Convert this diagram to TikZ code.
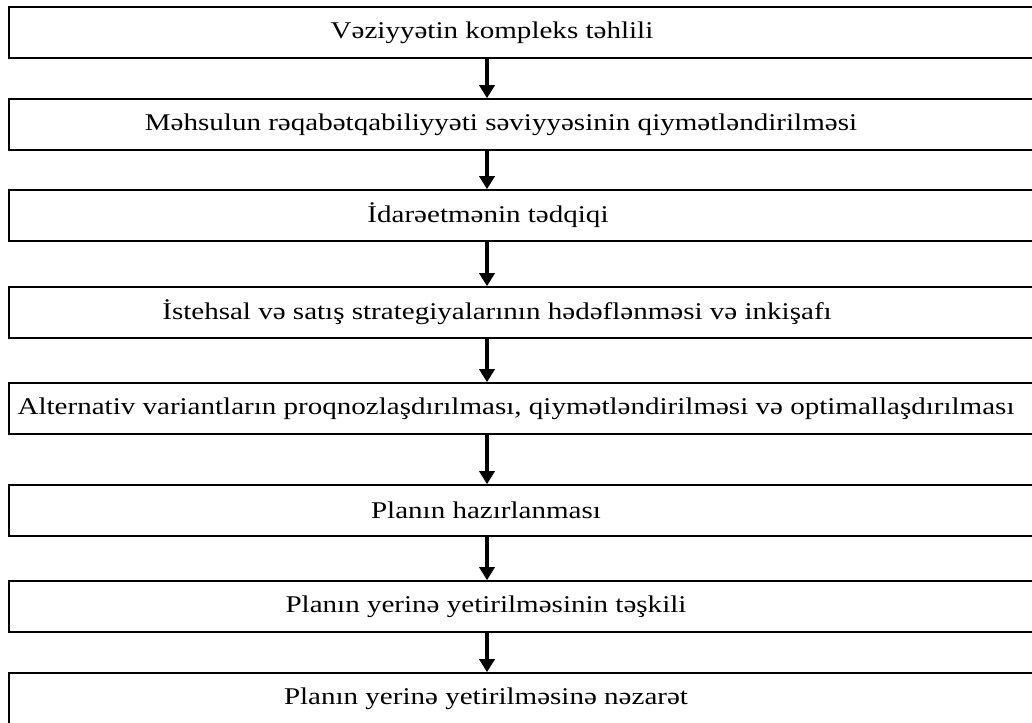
\documentclass[tikz,border=0pt]{standalone}
\usepackage{fontspec}
\setmainfont[FakeStretch=1.21]{Liberation Serif}
\usetikzlibrary{arrows.meta}
\begin{document}
\begin{tikzpicture}[x=1pt,y=-1pt,
  box/.style={draw=black,line width=1.6pt,minimum width=1036pt,minimum height=51pt,inner sep=0pt},
  lbl/.style={font=\fontsize{24}{28}\selectfont,inner sep=0pt},
  flow/.style={line width=3.6pt,-{Triangle[width=15pt,length=13pt]}}]
\useasboundingbox (0,0) rectangle (1032,722);
\clip (0,0) rectangle (1032,722);
\foreach \n/\y in {1/32.5,2/124.5,3/215.5,4/312.5,5/408.5,6/510.5,7/606.5,8/698.5}{
  \node[box] (b\n) at (527,\y) {};
}
\node[lbl] (t1) at (492,32.5) {Vəziyyətin kompleks təhlili};
\node[lbl] (t2) at (501,124.5) {Məhsulun rəqabətqabiliyyəti səviyyəsinin qiymətləndirilməsi};
\node[lbl] (t3) at (488,215.5) {İdarəetmənin tədqiqi};
\node[lbl] (t4) at (497,312.5) {İstehsal və satış strategiyalarının hədəflənməsi və inkişafı};
\node[lbl] (t5) at (516,408.5) {Alternativ variantların proqnozlaşdırılması, qiymətləndirilməsi və optimallaşdırılması};
\node[lbl] (t6) at (486,510.5) {Planın hazırlanması};
\node[lbl] (t7) at (486,606.5) {Planın yerinə yetirilməsinin təşkili};
\node[lbl] (t8) at (486,698.5) {Planın yerinə yetirilməsinə nəzarət};
\coordinate (ax) at (487,0);
\foreach \a/\b in {1/2,2/3,3/4,4/5,5/6,6/7,7/8}{
  \draw[flow] (ax |- b\a.south) -- (ax |- b\b.north);
}
\end{tikzpicture}
\end{document}
